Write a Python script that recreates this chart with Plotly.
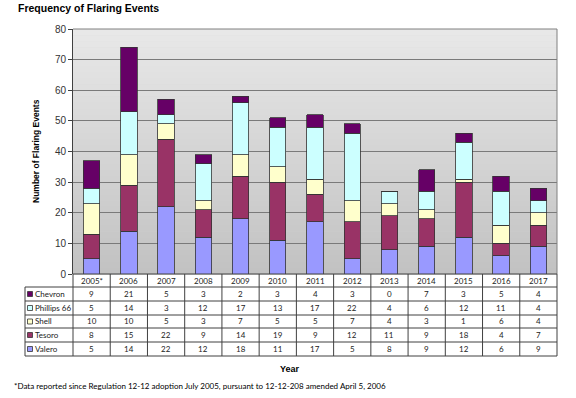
import plotly.graph_objects as go

years = ["2005*", "2006", "2007", "2008", "2009", "2010", "2011", "2012",
         "2013", "2014", "2015", "2016", "2017"]
valero = [5, 14, 22, 12, 18, 11, 17, 5, 8, 9, 12, 6, 9]
tesoro = [8, 15, 22, 9, 14, 19, 9, 12, 11, 9, 18, 4, 7]
shell = [10, 10, 5, 3, 7, 5, 5, 7, 4, 3, 1, 6, 4]
phillips = [5, 14, 3, 12, 17, 13, 17, 22, 4, 6, 12, 11, 4]
chevron = [9, 21, 5, 3, 2, 3, 4, 3, 0, 7, 3, 5, 4]

series = [("Valero", valero, "#9999ff"),
          ("Tesoro", tesoro, "#993366"),
          ("Shell", shell, "#ffffcc"),
          ("Phillips 66", phillips, "#ccffff"),
          ("Chevron", chevron, "#660066")]
table_order = ["Chevron", "Phillips 66", "Shell", "Tesoro", "Valero"]

W, H = 576, 398
L, R, T, B = 73, 557, 29, 274
pw, ph = R - L, B - T

def px2py(py):
    return (B - py) / ph

def px2pxx(px):
    return (px - L) / pw

fig = go.Figure()
for name, vals, col in series:
    fig.add_trace(go.Bar(x=years, y=vals, name=name, marker_color=col,
                         marker_line=dict(color="#333333", width=0.8),
                         width=0.44, showlegend=False))

shapes = []
n = 40
for i in range(n):
    t = i / (n - 1)
    g = int(round(0xe8 + (0xc2 - 0xe8) * t))
    c = f"rgb({g},{g},{g})"
    shapes.append(dict(type="rect", xref="paper", yref="paper",
                       x0=0, x1=1, y0=1 - (i + 1) / n - 0.002, y1=1 - i / n,
                       fillcolor=c, line=dict(width=0), layer="below"))
shapes.append(dict(type="line", xref="paper", yref="paper", x0=0, x1=1, y0=1, y1=1,
                   line=dict(color="#808080", width=1)))
shapes.append(dict(type="line", xref="paper", yref="paper", x0=1, x1=1, y0=0, y1=1,
                   line=dict(color="#808080", width=1)))

row_px = [274, 287, 301, 315, 328, 342, 356]
lab_left = px2pxx(25)
ncol = len(years)
line_c = "#404040"
shapes.append(dict(type="line", xref="paper", yref="paper", x0=0, x1=1,
                   y0=0, y1=0, line=dict(color=line_c, width=1)))
for rp in row_px[1:]:
    shapes.append(dict(type="line", xref="paper", yref="paper", x0=lab_left, x1=1,
                       y0=px2py(rp), y1=px2py(rp), line=dict(color=line_c, width=1)))
for i in range(ncol + 1):
    x = i / ncol
    shapes.append(dict(type="line", xref="paper", yref="paper", x0=x, x1=x,
                       y0=px2py(row_px[-1]), y1=0, line=dict(color=line_c, width=1)))
shapes.append(dict(type="line", xref="paper", yref="paper", x0=lab_left, x1=lab_left,
                   y0=px2py(row_px[-1]), y1=px2py(row_px[1]), line=dict(color=line_c, width=1)))

annotations = []
tfont = dict(family="Lato, Liberation Sans, sans-serif", size=8, color="#222222")
for i, yr in enumerate(years):
    annotations.append(dict(x=(i + 0.5) / ncol, y=px2py((row_px[0] + row_px[1]) / 2),
                            xref="paper", yref="paper", text=yr, showarrow=False,
                            font=tfont, xanchor="center", yanchor="middle"))
lookup = {name: (vals, col) for name, vals, col in series}
for r, name in enumerate(table_order):
    vals, col = lookup[name]
    yc = px2py((row_px[r + 1] + row_px[r + 2]) / 2)
    shapes.append(dict(type="rect", xref="paper", yref="paper",
                       x0=px2pxx(27.5), x1=px2pxx(32.5), y0=yc - 2.5 / ph, y1=yc + 2.5 / ph,
                       fillcolor=col, line=dict(color="#333333", width=0.8)))
    annotations.append(dict(x=px2pxx(32.5), y=yc, xref="paper", yref="paper", text=name,
                            showarrow=False, font=tfont, xanchor="left", yanchor="middle"))
    for i, v in enumerate(vals):
        annotations.append(dict(x=(i + 0.5) / ncol, y=yc, xref="paper", yref="paper",
                                text=str(v), showarrow=False, font=tfont,
                                xanchor="center", yanchor="middle"))

bold = dict(family="Liberation Sans, Arial, sans-serif", color="#000000")
annotations.append(dict(x=px2pxx(16), y=px2py(8), xref="paper", yref="paper",
                        text="<b>Frequency of Flaring Events</b>", showarrow=False,
                        font=dict(size=10.5, **bold), xanchor="left", yanchor="middle"))
annotations.append(dict(x=px2pxx(36), y=px2py(151), xref="paper", yref="paper",
                        text="<b>Number of Flaring Events</b>", showarrow=False, textangle=-90,
                        font=dict(size=8.5, **bold), xanchor="center", yanchor="middle"))
annotations.append(dict(x=px2pxx(290), y=px2py(369), xref="paper", yref="paper",
                        text="<b>Year</b>", showarrow=False,
                        font=dict(size=9, **bold), xanchor="center", yanchor="middle"))
annotations.append(dict(x=px2pxx(12), y=px2py(386), xref="paper", yref="paper",
                        text="*Data reported since Regulation 12-12 adoption July 2005, pursuant to 12-12-208 amended April 5, 2006",
                        showarrow=False,
                        font=dict(family="Lato, Liberation Sans, sans-serif", size=8, color="#000000"),
                        xanchor="left", yanchor="middle"))

fig.update_layout(
    width=W, height=H,
    margin=dict(l=L, r=W - R, t=T, b=H - B, autoexpand=False),
    barmode="stack",
    paper_bgcolor="white",
    plot_bgcolor="#d4d4d4",
    shapes=shapes,
    annotations=annotations,
    showlegend=False,
    hovermode=False,
    xaxis=dict(type="category", range=[-0.5, 12.5], showticklabels=False,
               showgrid=False, zeroline=False, showline=False, ticks=""),
    yaxis=dict(range=[0, 80], dtick=10, showgrid=True, gridcolor="#7a7a7a", gridwidth=1,
               zeroline=False, showline=True, linecolor="#404040", linewidth=1,
               ticks="outside", ticklen=4, tickcolor="#404040",
               tickfont=dict(family="Liberation Sans, Arial, sans-serif", size=10, color="#333333")),
)

fig.write_html("out.html", config={"displayModeBar": False},
               post_script="document.body.style.margin='0px';")
